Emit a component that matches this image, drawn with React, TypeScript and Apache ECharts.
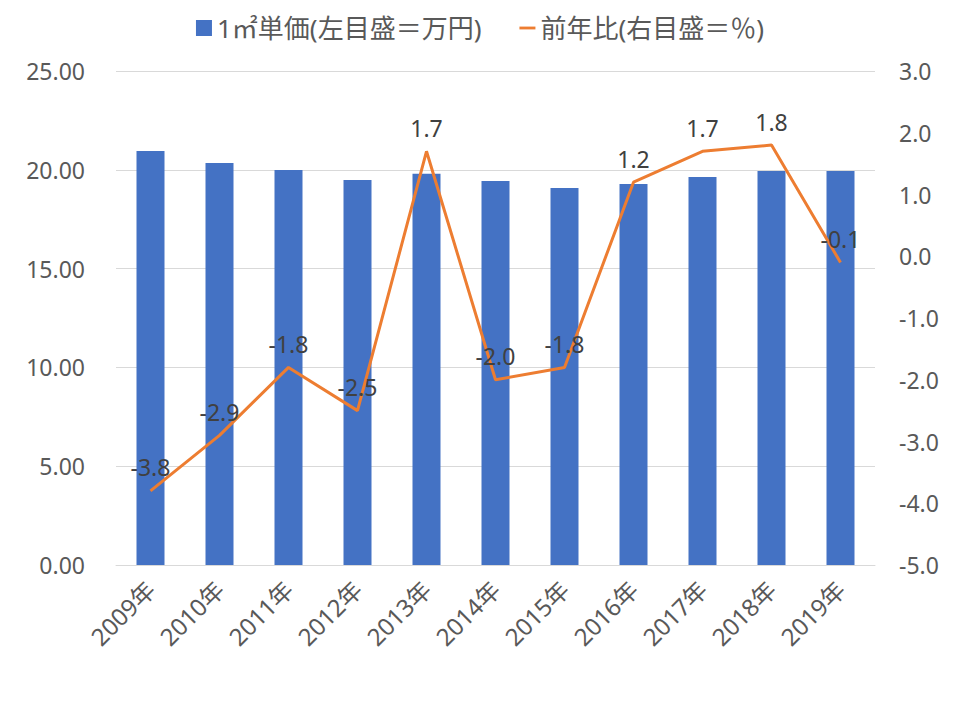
import React, { useEffect, useRef } from "react";
import * as echarts from "echarts";

const categories = ["2009年", "2010年", "2011年", "2012年", "2013年", "2014年", "2015年", "2016年", "2017年", "2018年", "2019年"];
const unitPrice = [20.95, 20.34, 19.99, 19.48, 19.8, 19.43, 19.08, 19.28, 19.64, 19.94, 19.94];
const yoy = [-3.8, -2.9, -1.8, -2.5, 1.7, -2.0, -1.8, 1.2, 1.7, 1.8, -0.1];
const seriesNames = ["1㎡単価(左目盛＝万円)", "前年比(右目盛＝％)"];

const FONT = "'Noto Sans', 'Noto Sans CJK JP', sans-serif";
const TEXT = "#595959";

export default function App() {
  const ref = useRef<HTMLDivElement>(null);
  useEffect(() => {
    if (!ref.current) return;
    const chart = echarts.init(ref.current, null, { renderer: "svg" });
    chart.setOption({
      animation: false,
      textStyle: { fontFamily: FONT },
      legend: {
        top: 10,
        left: "center",
        itemGap: 38,
        itemWidth: 16,
        itemHeight: 16,
        textStyle: { fontSize: 26, color: TEXT, fontFamily: FONT },
        data: [
          { name: seriesNames[0], icon: "rect" },
          { name: seriesNames[1], icon: "path://M0,0 L17,0 L17,3 L0,3 Z" },
        ],
      },
      grid: { left: 116, right: 85, top: 71, bottom: 155, containLabel: false },
      xAxis: {
        type: "category",
        data: categories,
        axisTick: { show: false },
        axisLine: { lineStyle: { color: "#d9d9d9", width: 1 } },
        axisLabel: { rotate: 45, fontSize: 24, color: TEXT, fontFamily: FONT, margin: 20, interval: 0 },
      },
      yAxis: [
        {
          type: "value",
          min: 0,
          max: 25,
          interval: 5,
          axisLine: { show: false },
          axisTick: { show: false },
          splitLine: { lineStyle: { color: "#d9d9d9", width: 1 } },
          axisLabel: { fontSize: 23, color: TEXT, fontFamily: FONT, margin: 31, formatter: (v: number) => v.toFixed(2) },
        },
        {
          type: "value",
          min: -5,
          max: 3,
          interval: 1,
          position: "right",
          axisLine: { show: false },
          axisTick: { show: false },
          splitLine: { show: false },
          axisLabel: { fontSize: 23, color: TEXT, fontFamily: FONT, margin: 24, formatter: (v: number) => v.toFixed(1) },
        },
      ],
      series: [
        {
          name: seriesNames[0],
          type: "bar",
          data: unitPrice,
          barWidth: 28,
          itemStyle: { color: "#4472C4" },
        },
        {
          name: seriesNames[1],
          type: "line",
          yAxisIndex: 1,
          data: yoy,
          symbol: "circle",
          symbolSize: 0,
          showSymbol: true,
          lineStyle: { color: "#ED7D31", width: 3 },
          itemStyle: { color: "#ED7D31" },
          label: {
            show: true,
            position: "top",
            distance: 12,
            fontSize: 23,
            color: "#404040",
            fontFamily: FONT,
            formatter: (p: any) => Number(p.value).toFixed(1),
          },
        },
      ],
    });
    return () => chart.dispose();
  }, []);
  return <div ref={ref} style={{ width: 960, height: 720, position: "absolute", left: 0, top: 0, background: "#fff" }} />;
}
